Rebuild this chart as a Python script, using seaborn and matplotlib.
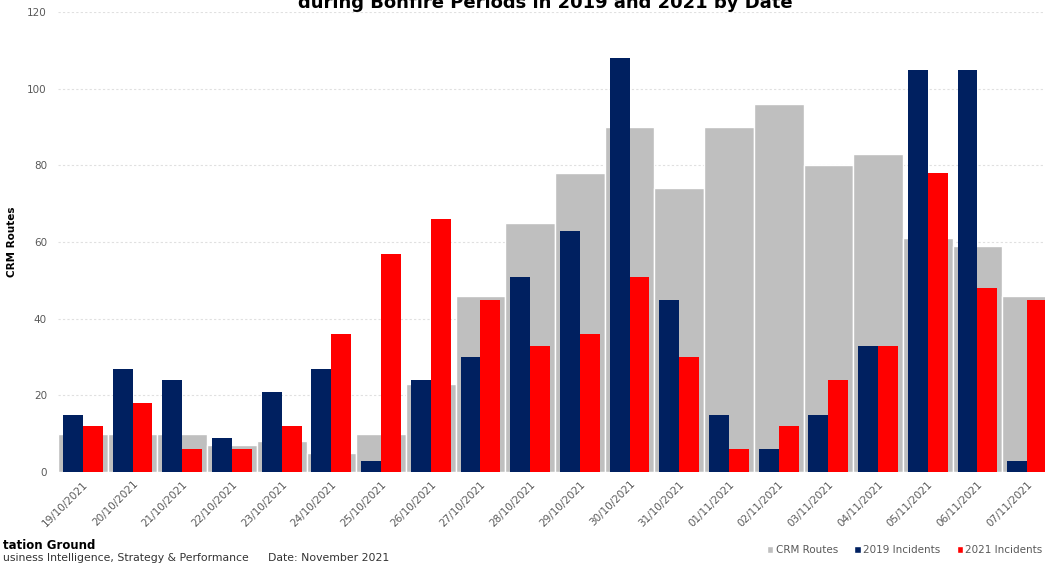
import matplotlib
matplotlib.use("Agg")
import matplotlib.pyplot as plt
import seaborn as sns
import pandas as pd
from matplotlib.patches import Patch

dates = ["19/10/2021", "20/10/2021", "21/10/2021", "22/10/2021", "23/10/2021",
         "24/10/2021", "25/10/2021", "26/10/2021", "27/10/2021", "28/10/2021",
         "29/10/2021", "30/10/2021", "31/10/2021", "01/11/2021", "02/11/2021",
         "03/11/2021", "04/11/2021", "05/11/2021", "06/11/2021", "07/11/2021"]
crm_routes = [10, 10, 10, 7, 8, 5, 10, 23, 46, 65, 78, 90, 74, 90, 96, 80, 83, 61, 59, 46]
incidents_2019 = [15, 27, 24, 9, 21, 27, 3, 24, 30, 51, 63, 108, 45, 15, 6, 15, 33, 105, 105, 3]
incidents_2021 = [12, 18, 6, 6, 12, 36, 57, 66, 45, 33, 36, 51, 30, 6, 12, 24, 33, 78, 48, 45]
series_names = ["2019 Incidents", "2021 Incidents"]
yticks = [0, 20, 40, 60, 80, 100, 120]

GREY = "#BFBFBF"
NAVY = "#002060"
RED = "#FF0000"
TXT = "#595959"

sns.set_theme(style="white")
plt.rcParams["font.family"] = ["DejaVu Sans"]

W, H = 1045, 563
fig = plt.figure(figsize=(W / 100, H / 100), dpi=100)
ncat = len(dates)
cat_px = 49.7
left_px = 58
bottom_px = 472
top_px = 12
ax_w_px = cat_px * ncat
ax = fig.add_axes([left_px / W, (H - bottom_px) / H,
                   ax_w_px / W, (bottom_px - top_px) / H])

df_routes = pd.DataFrame({"date": dates, "value": crm_routes})
sns.barplot(data=df_routes, x="date", y="value", color=GREY, saturation=1,
            width=1.0, edgecolor="white", linewidth=1.0, ax=ax, zorder=2)

df_inc = pd.DataFrame({
    "date": dates * 2,
    "value": incidents_2019 + incidents_2021,
    "series": [series_names[0]] * ncat + [series_names[1]] * ncat,
})
sns.barplot(data=df_inc, x="date", y="value", hue="series",
            palette=[NAVY, RED], saturation=1, width=0.8, linewidth=0,
            ax=ax, legend=False, zorder=3)

ax.set_xlim(-0.5, ncat - 0.5)
ax.set_ylim(0, 120)
ax.set_yticks(yticks)
ax.yaxis.grid(True, linestyle=(0, (2, 2)), color="#E0E0E0", linewidth=0.8, zorder=0)
ax.xaxis.grid(False)
ax.set_axisbelow(True)
for s in ax.spines.values():
    s.set_visible(False)
ax.tick_params(axis="both", length=0, colors=TXT, labelsize=7.5)
ax.tick_params(axis="y", pad=8)
ax.tick_params(axis="x", pad=5)
ax.set_xticks(range(ncat))
ax.set_xticklabels(dates, rotation=45, ha="right", rotation_mode="anchor")
ax.set_xlabel("")
ax.set_ylabel("CRM Routes", fontsize=7.5, fontweight="bold", color="black")
ax.yaxis.set_label_coords((17 - left_px) / ax_w_px, 0.5)

fig.text(545 / W, 1 - 8 / H, "during Bonfire Periods in 2019 and 2021 by Date",
         ha="center", va="baseline", fontsize=13, fontweight="bold", color="black")

fig.text(3 / W, 1 - 549 / H, "tation Ground", ha="left", va="baseline",
         fontsize=8.5, fontweight="bold", color="black")
fig.text(3 / W, 1 - 561 / H, "usiness Intelligence, Strategy & Performance",
         ha="left", va="baseline", fontsize=7.8, color="#333333")
fig.text(268 / W, 1 - 561 / H, "Date: November 2021",
         ha="left", va="baseline", fontsize=7.8, color="#333333")

handles = [Patch(facecolor=GREY, label="CRM Routes"),
           Patch(facecolor=NAVY, label="2019 Incidents"),
           Patch(facecolor=RED, label="2021 Incidents")]
leg = fig.legend(handles=handles, loc="center left",
                 bbox_to_anchor=(762 / W, 1 - 550 / H), ncol=3, frameon=False,
                 fontsize=7.5, handlelength=0.6, handleheight=0.6,
                 handletextpad=0.2, columnspacing=1.6, borderpad=0)
for t in leg.get_texts():
    t.set_color(TXT)

fig.savefig("out.png", dpi=100)
